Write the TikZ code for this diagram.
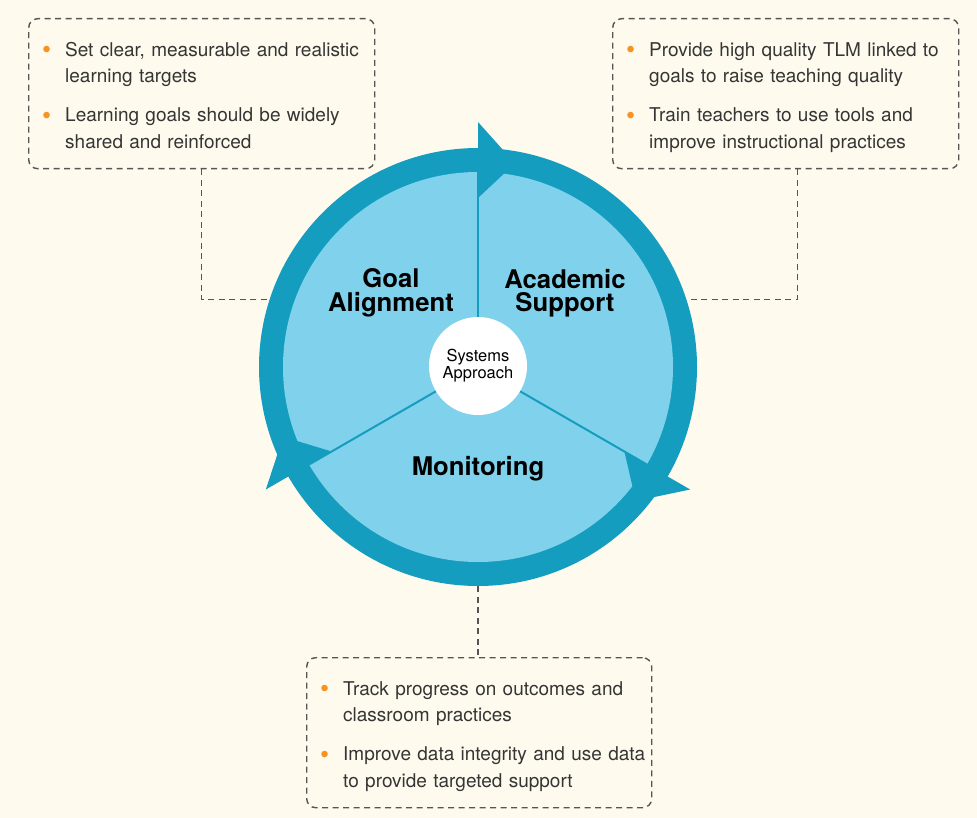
\documentclass[tikz,border=0pt]{standalone}
\usepackage{fontspec}
\setmainfont{TeX Gyre Heros}
\usepackage{tikz}
\usepackage{xcolor}
\definecolor{cream}{HTML}{FEFBEE}
\definecolor{ringblue}{HTML}{159DBF}
\definecolor{fillblue}{HTML}{80D2EC}
\definecolor{dotorange}{HTML}{F7931E}
\definecolor{txtgray}{HTML}{353535}
\definecolor{linegray}{HTML}{555555}
\newcommand{\bitem}{\hspace*{10.45pt}\makebox[23.05pt][l]{\fontsize{26}{0}\selectfont\raisebox{-2.7pt}{\textcolor{dotorange}{\textbullet}}}}
\newcommand{\bcont}{\hspace*{33.5pt}}
\newcommand{\topgap}{\rule{0pt}{25pt}}
\newcommand{\botgap}{\rule[-8pt]{0pt}{8pt}}

\begin{document}
\begin{tikzpicture}[x=1pt,y=1pt]
\tikzstyle{every node}+=[inner sep=0pt]
\tikzstyle{note}=[draw=linegray, line width=1.4pt, dash pattern=on 6pt off 4.5pt, rounded corners=9pt, anchor=north west, text width=340pt, inner xsep=3pt, minimum height=150pt, align=left, text=txtgray, font=\fontsize{19}{26.5}\selectfont]
\tikzstyle{link}=[draw=linegray, line width=1.4pt, dash pattern=on 6pt off 4.5pt]
\tikzstyle{head}=[align=center, font=\bfseries\fontsize{25.7}{23.5}\selectfont]
\fill [cream] (0,0) rectangle (977,-818);
\useasboundingbox (0,0) rectangle (977,-818);
\node [note] (goalbox) at (28,-18) {\topgap\bitem Set clear, measurable and realistic\\ \bcont learning targets\\[12.5pt] \bitem Learning goals should be widely\\ \bcont shared and reinforced\botgap};
\node [note] (supportbox) at (612,-18) {\topgap\bitem Provide high quality TLM linked to\\ \bcont goals to raise teaching quality\\[12.5pt] \bitem Train teachers to use tools and\\ \bcont improve instructional practices\botgap};
\node [note, text width=339pt] (monitorbox) at (306,-657) {\topgap\bitem Track progress on outcomes and\\ \bcont classroom practices\\[12.5pt] \bitem Improve data integrity and use data\\ \bcont to provide targeted support\botgap};
\node [circle, fill=ringblue, minimum size=438pt] (ring) at (478,-367) {};
\node [circle, fill=fillblue, minimum size=390pt] (disc) at (ring) {};
\draw [link] (goalbox.south) |- (ring.162);
\draw [link] ([xshift=12pt]supportbox.south) |- (ring.18);
\draw [link] (ring.south) -- (ring.south |- monitorbox.north);
\begin{scope}[shift={(ring.center)}]
\fill [ringblue] (90:169) -- (90:245) -- (79.7:207) -- cycle;
\fill [ringblue] (-30:169) -- (-30:245) -- (-40.3:207) -- cycle;
\fill [ringblue] (210:169) -- (210:245) -- (199.7:207) -- cycle;
\draw [ringblue, line width=2pt] (0,0) -- (90:195);
\draw [ringblue, line width=2pt] (0,0) -- (-30:195);
\draw [ringblue, line width=2pt] (0,0) -- (210:195);
\end{scope}
\node [circle, fill=white, minimum size=98pt, align=center, font=\fontsize{16.5}{17}\selectfont] (core) at (478,-366) {Systems\\Approach};
\node [head] (goal) at (391,-293) {Goal\\Alignment};
\node [head] (support) at (565,-293) {Academic\\Support};
\node [head] (monitor) at (478,-469) {Monitoring};
\end{tikzpicture}
\end{document}
